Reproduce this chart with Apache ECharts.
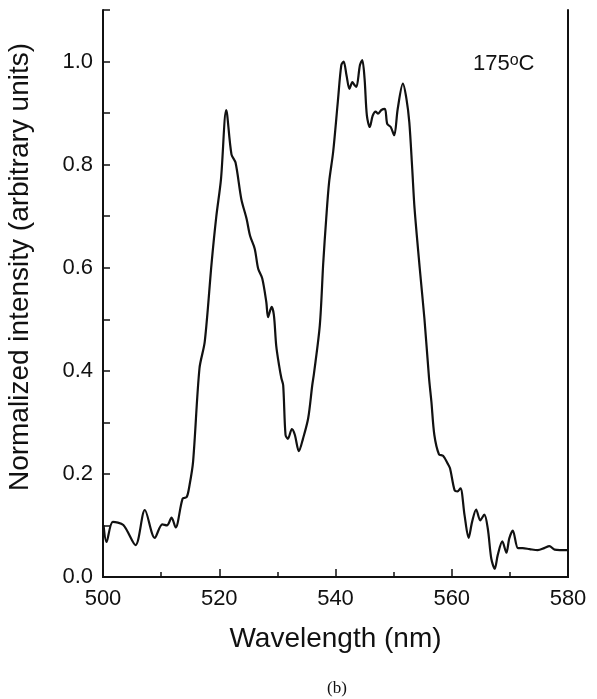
<!DOCTYPE html>
<html>
<head>
<meta charset="utf-8">
<title>Normalized intensity vs wavelength</title>
<script src="https://cdn.jsdelivr.net/npm/echarts@6/dist/echarts.min.js"></script>
<style>
  html, body { margin: 0; padding: 0; background: #fff; }
  #chart { width: 597px; height: 699px; }
</style>
</head>
<body>
<div id="chart"></div>
<script>
// wavelength (nm)
const wavelength = [
  500.1, 500.6, 501.7, 503.5, 505.6, 507.2, 508.9, 510.2, 511.0, 511.8,
  512.5, 513.7, 514.4, 514.9, 515.5, 516.6, 517.5, 518.7, 519.5, 520.3,
  521.2, 522.1, 522.8, 523.8, 524.7, 525.3, 526.1, 526.7, 527.4, 528.1,
  528.4, 529.0, 529.4, 529.8, 530.3, 530.7, 531.0, 531.4, 531.8, 532.5,
  533.0, 533.7, 534.4, 535.3, 536.0, 536.3, 537.3, 537.9, 538.4, 538.9,
  539.6, 540.4, 541.0, 541.4, 541.9, 542.4, 542.9, 543.3, 543.6, 544.2,
  544.6, 545.0, 545.4, 545.9, 546.4, 546.9, 547.3, 547.9, 548.5, 548.9,
  549.5, 550.1, 550.7, 551.6, 552.2, 552.7, 553.2, 553.6, 554.5, 555.3,
  556.1, 556.5, 557.0, 557.8, 558.5, 559.3, 559.7, 560.5, 561.0, 561.5,
  562.2, 562.9, 563.5, 564.2, 564.9, 565.6, 566.2, 566.8, 567.4, 567.9,
  568.7, 569.4, 569.9, 570.5, 571.4, 572.2, 573.4, 574.8, 575.9, 576.8,
  577.7, 580.0
]
// normalized intensity at each wavelength
const intensity = [
  0.100, 0.068, 0.107, 0.101, 0.062, 0.130, 0.076, 0.102, 0.100, 0.115,
  0.096, 0.152, 0.155, 0.179, 0.224, 0.405, 0.456, 0.611, 0.700, 0.772,
  0.906, 0.820, 0.804, 0.733, 0.695, 0.662, 0.637, 0.598, 0.579, 0.533,
  0.504, 0.524, 0.508, 0.449, 0.410, 0.385, 0.372, 0.276, 0.268, 0.287,
  0.276, 0.244, 0.268, 0.308, 0.372, 0.395, 0.488, 0.611, 0.695, 0.766,
  0.825, 0.922, 0.993, 1.000, 0.973, 0.947, 0.960, 0.954, 0.951, 0.993,
  1.003, 0.967, 0.895, 0.873, 0.895, 0.903, 0.899, 0.906, 0.908, 0.879,
  0.873, 0.857, 0.908, 0.957, 0.928, 0.882, 0.792, 0.715, 0.598, 0.501,
  0.385, 0.340, 0.276, 0.238, 0.235, 0.220, 0.211, 0.168, 0.166, 0.172,
  0.120, 0.076, 0.107, 0.131, 0.110, 0.121, 0.094, 0.036, 0.016, 0.042,
  0.069, 0.047, 0.075, 0.090, 0.056, 0.056, 0.054, 0.052, 0.056, 0.060,
  0.053, 0.052
]

const xTicks = [500, 520, 540, 560, 580]
const yTicks = ['0.0', '0.2', '0.4', '0.6', '0.8', '1.0']
const tempLabel = '175'

const font = "'Liberation Sans', Arial, sans-serif"

const chart = echarts.init(document.getElementById('chart'))

const points = wavelength.map((w, i) => [w, intensity[i]])

const option = {
  animation: false,
  backgroundColor: '#fff',
  grid: { left: 103, right: 29, top: 10, bottom: 122 },
  xAxis: [{
    type: 'value',
    min: xTicks[0],
    max: xTicks[xTicks.length - 1],
    interval: 20,
    name: 'Wavelength (nm)',
    nameLocation: 'middle',
    nameGap: 48,
    nameTextStyle: { fontFamily: font, fontSize: 28, color: '#111' },
    axisLine: { show: true, lineStyle: { color: '#111', width: 2 } },
    axisTick: { show: true, inside: true, length: 8, lineStyle: { color: '#111', width: 1.5 } },
    minorTick: { show: true, splitNumber: 2, length: 5, lineStyle: { color: '#111', width: 1.5 } },
    axisLabel: { fontFamily: font, fontSize: 22, color: '#111', margin: 11 },
    splitLine: { show: false }
  }, {
    // top frame line
    type: 'value',
    position: 'top',
    min: xTicks[0],
    max: xTicks[xTicks.length - 1],
    axisLine: { show: true, lineStyle: { color: '#111', width: 2 } },
    axisTick: { show: false },
    axisLabel: { show: false },
    splitLine: { show: false }
  }],
  yAxis: [{
    type: 'value',
    min: 0,
    max: 1.1,
    interval: 0.1,
    axisLine: { show: true, lineStyle: { color: '#111', width: 2 } },
    axisTick: { show: true, inside: true, length: 7, lineStyle: { color: '#111', width: 1.5 } },
    axisLabel: {
      fontFamily: font, fontSize: 22, color: '#111', margin: 10,
      formatter: (v) => {
        const s = v.toFixed(1)
        return yTicks.indexOf(s) >= 0 ? s : ''
      }
    },
    splitLine: { show: false }
  }, {
    // right frame line
    type: 'value',
    position: 'right',
    min: 0,
    max: 1.1,
    axisLine: { show: true, lineStyle: { color: '#111', width: 2 } },
    axisTick: { show: false },
    axisLabel: { show: false },
    splitLine: { show: false }
  }],
  series: [{
    name: 'intensity',
    type: 'line',
    data: points,
    smooth: 0.3,
    showSymbol: false,
    lineStyle: { color: '#111', width: 2.2 }
  }],
  graphic: [{
    type: 'text',
    x: 20,
    y: 267,
    rotation: Math.PI / 2,
    style: {
      text: 'Normalized intensity (arbitrary units)',
      font: "28px " + font,
      fill: '#111',
      textAlign: 'center',
      textVerticalAlign: 'middle'
    }
  }, {
    // temperature tag, superscript o raised to the cap line
    type: 'text',
    x: 473,
    y: 64,
    style: {
      text: tempLabel + '{s|o}C',
      font: "22px " + font,
      fill: '#111',
      textAlign: 'left',
      textVerticalAlign: 'middle',
      rich: {
        s: { font: "16px " + font, fill: '#111', verticalAlign: 'top', lineHeight: 8 }
      }
    }
  }, {
    type: 'text',
    x: 337,
    y: 689,
    style: {
      text: '(b)',
      font: "17px 'Liberation Serif', 'Times New Roman', serif",
      fill: '#111',
      textAlign: 'center',
      textVerticalAlign: 'middle'
    }
  }]
}

chart.setOption(option)
</script>
</body>
</html>
